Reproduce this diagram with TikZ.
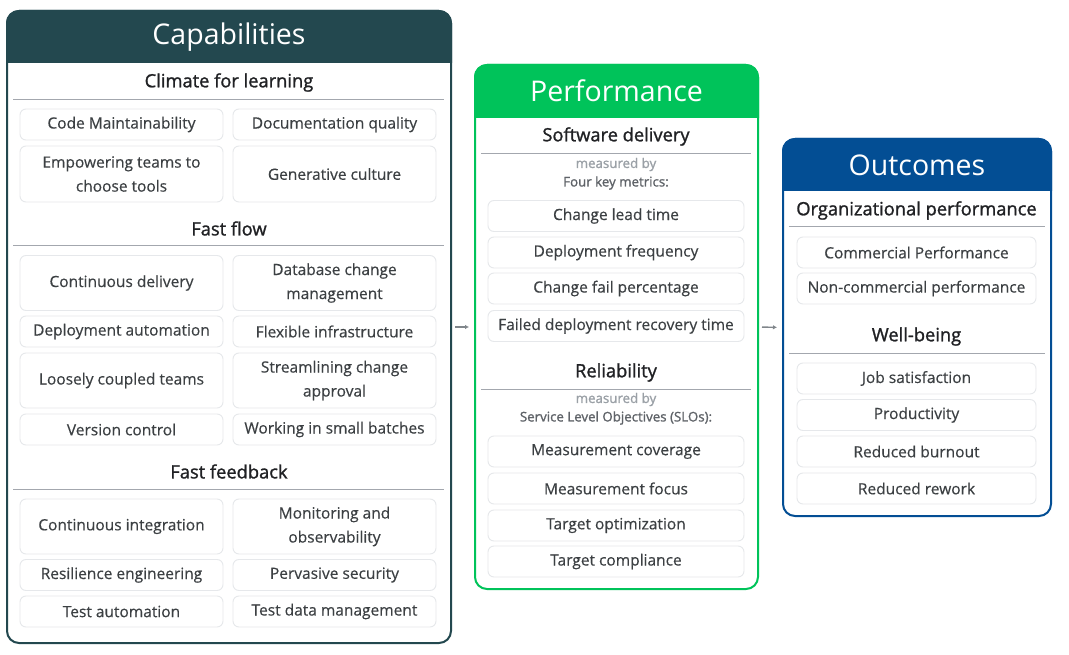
\documentclass[tikz,border=0pt]{standalone}
\usepackage{fontspec}
\setmainfont{Open Sans}
\newfontfamily\headfont{Open Sans}[FakeBold=1.3]
\newfontfamily\itemfont{Open Sans}[FakeBold=0.4]
\usetikzlibrary{arrows.meta}

\definecolor{capcol}{HTML}{23484F}
\definecolor{perfcol}{HTML}{00C35A}
\definecolor{outcol}{HTML}{034E94}
\definecolor{itemline}{HTML}{E6E8EB}
\definecolor{itemtext}{HTML}{3C4043}
\definecolor{headtext}{HTML}{202124}
\definecolor{divline}{HTML}{A3A7AE}
\definecolor{softgray}{HTML}{9AA0A6}
\definecolor{midgray}{HTML}{5F6368}
\definecolor{arrowgray}{HTML}{80868B}

\tikzset{
  panel/.style={draw=#1, line width=2pt, rounded corners=12pt, fill=white, inner sep=0pt},
  titletext/.style={text=white, font=\fontsize{28.5}{32}\selectfont, inner sep=0pt},
  heading/.style={text=headtext, font=\headfont\fontsize{18.3}{22}\selectfont, inner sep=0pt, yshift=-1.5pt},
  divider/.style={draw=divline, line width=1pt},
  item/.style={draw=itemline, line width=0.9pt, rounded corners=6pt, fill=white,
    text=itemtext, align=center, inner sep=0pt,
    font=\itemfont\fontsize{15.5}{24}\selectfont, minimum height=31pt},
  capitem/.style={item, minimum width=203pt},
  perfitem/.style={item, minimum width=256pt},
  outitem/.style={item, minimum width=239pt},
  note/.style={text=softgray, font=\headfont\fontsize{13.3}{15}\selectfont, inner sep=0pt},
  metric/.style={text=midgray, font=\headfont\fontsize{13.3}{15}\selectfont, inner sep=0pt},
  flow/.style={draw=arrowgray, line width=1.4pt, -{Latex[length=4pt,width=4.5pt]}},
}

\begin{document}
\begin{tikzpicture}[x=1pt, y=-1pt]
\useasboundingbox (0,0) rectangle (1069,655);

% ---------- Capabilities ----------
\node[panel=capcol, minimum width=444pt, minimum height=632pt] (cap) at (229,327) {};
\fill[capcol, draw=capcol, line width=2pt] (7,62) {[rounded corners=12pt] -- (7,11) -- (451,11)} -- (451,62) -- cycle;
\node[titletext] (captitle) at (229,37) {Capabilities};

\node[heading] (climate) at (229,81) {Climate for learning};
\draw[divider] (13,100) -- (444,100);
\node[capitem] (c1) at (121.5,124.5) {Code Maintainability};
\node[capitem] (c2) at (334.5,124.5) {Documentation quality};
\node[capitem, minimum height=56pt] (c3) at (121.5,174) {Empowering teams to\\choose tools};
\node[capitem, minimum height=56pt] (c4) at (334.5,174) {Generative culture};

\node[heading] (fastflow) at (229,227) {Fast flow};
\draw[divider] (13,246) -- (444,246);
\node[capitem, minimum height=55pt] (f1) at (121.5,283) {Continuous delivery};
\node[capitem, minimum height=55pt] (f2) at (334.5,283) {Database change\\management};
\node[capitem] (f3) at (121.5,331.5) {Deployment automation};
\node[capitem] (f4) at (334.5,331.5) {Flexible infrastructure};
\node[capitem, minimum height=55pt] (f5) at (121.5,380.5) {Loosely coupled teams};
\node[capitem, minimum height=55pt] (f6) at (334.5,380.5) {Streamlining change\\approval};
\node[capitem] (f7) at (121.5,429.5) {Version control};
\node[capitem] (f8) at (334.5,429.5) {Working in small batches};

\node[heading] (fastfb) at (229,470) {Fast feedback};
\draw[divider] (13,489) -- (444,489);
\node[capitem, minimum height=55pt] (b1) at (121.5,526.5) {Continuous integration};
\node[capitem, minimum height=55pt] (b2) at (334.5,526.5) {Monitoring and\\observability};
\node[capitem] (b3) at (121.5,575) {Resilience engineering};
\node[capitem] (b4) at (334.5,575) {Pervasive security};
\node[capitem] (b5) at (121.5,611.5) {Test automation};
\node[capitem] (b6) at (334.5,611.5) {Test data management};

% ---------- Performance ----------
\node[panel=perfcol, minimum width=283pt, minimum height=524pt] (perf) at (616.5,327) {};
\fill[perfcol, draw=perfcol, line width=2pt] (475,117) {[rounded corners=12pt] -- (475,65) -- (758,65)} -- (758,117) -- cycle;
\node[titletext] (perftitle) at (616.5,91) {Performance};

\node[heading] (swdel) at (616,135) {Software delivery};
\draw[divider] (481,154) -- (751,154);
\node[note] (mb1) at (616,164.5) {measured by};
\node[metric] (fkm) at (616,183) {Four key metrics:};
\node[perfitem] (p1) at (616,216) {Change lead time};
\node[perfitem] (p2) at (616,252.5) {Deployment frequency};
\node[perfitem] (p3) at (616,288.5) {Change fail percentage};
\node[perfitem] (p4) at (616,326) {Failed deployment recovery time};

\node[heading] (reliab) at (616,371) {Reliability};
\draw[divider] (481,389) -- (751,389);
\node[note] (mb2) at (616,399.5) {measured by};
\node[metric] (slo) at (616,418) {Service Level Objectives (SLOs):};
\node[perfitem] (r1) at (616,451.5) {Measurement coverage};
\node[perfitem] (r2) at (616,488.5) {Measurement focus};
\node[perfitem] (r3) at (616,525.5) {Target optimization};
\node[perfitem] (r4) at (616,561.5) {Target compliance};

% ---------- Outcomes ----------
\node[panel=outcol, minimum width=268pt, minimum height=377pt] (out) at (917,327.5) {};
\fill[outcol, draw=outcol, line width=2pt] (783,190) {[rounded corners=12pt] -- (783,139) -- (1051,139)} -- (1051,190) -- cycle;
\node[titletext] (outtitle) at (917,165) {Outcomes};

\node[heading] (orgperf) at (916.5,209) {Organizational performance};
\draw[divider] (789,227) -- (1045,227);
\node[outitem] (o1) at (916.5,252.5) {Commercial Performance};
\node[outitem] (o2) at (916.5,288.5) {Non-commercial performance};

\node[heading] (wellb) at (916.5,335) {Well-being};
\draw[divider] (789,353) -- (1045,353);
\node[outitem] (w1) at (916.5,378.5) {Job satisfaction};
\node[outitem] (w2) at (916.5,415) {Productivity};
\node[outitem] (w3) at (916.5,451.5) {Reduced burnout};
\node[outitem] (w4) at (916.5,488.5) {Reduced rework};

% ---------- flow between panels ----------
\draw[flow, shorten <=3pt, shorten >=5pt] (cap.east) -- (perf.west);
\draw[flow, shorten <=3pt, shorten >=5pt] (perf.east) -- (out.west);
\end{tikzpicture}
\end{document}
